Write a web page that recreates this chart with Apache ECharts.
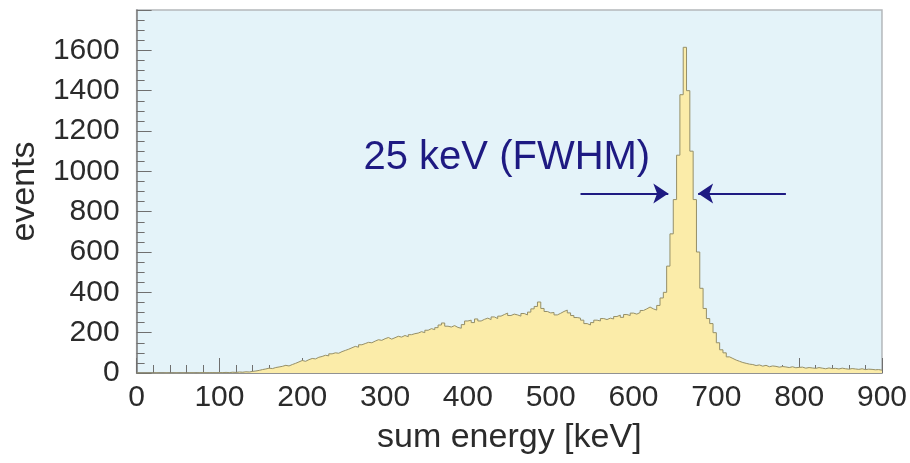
<!DOCTYPE html>
<html>
<head>
<meta charset="utf-8">
<script src="https://cdn.jsdelivr.net/npm/echarts@6/dist/echarts.min.js"></script>
<style>
  html, body { margin: 0; padding: 0; background: #ffffff; }
  #chart { width: 910px; height: 463px; }
</style>
</head>
<body>
<div id="chart"></div>
<script>
// Sum-energy spectrum, 4 keV bins starting at 0 keV
const binWidth = 4;

const countsLow = [        // 0 - 100 keV
  0, 0, 0, 0, 0, 1, 0, 0, 1, 0,
  0, 1, 0, 1, 0, 1, 1, 0, 1, 2,
  1, 1, 2, 1, 2
];
const countsContinuum = [  // 100 - 620 keV
  2, 3, 2, 4, 3, 5, 4, 6, 5, 8,
  10, 13, 17, 20, 24, 22, 27, 30, 33, 38,
  35, 42, 48, 55, 62, 58, 66, 72, 70, 78,
  82, 88, 85, 95, 100, 98, 106, 112, 118, 125,
  132, 128, 140, 146, 152, 150, 158, 165, 162, 170,
  176, 168, 175, 182, 178, 186, 180, 190, 195, 198,
  205, 200, 212, 220, 215, 225, 238, 248, 232, 228,
  235, 226, 222, 240, 258, 262, 250, 268, 258, 266,
  272, 265, 278, 270, 282, 290, 297, 285, 292, 288,
  282, 295, 288, 302, 318, 330, 352, 320, 305, 298,
  300, 288, 296, 305, 312, 298, 285, 275, 272, 262,
  245, 238, 250, 262, 258, 270, 265, 272, 268, 280,
  287, 276, 290, 285, 297, 292, 300, 310, 318, 327
];
const countsPeak = [       // 620 - 740 keV
  318, 312, 335, 372, 400, 530, 690, 860, 1080, 1380,
  1615, 1400, 1100, 860, 600, 420, 320, 270, 245, 200,
  150, 115, 100, 80, 72, 64, 58, 52, 48, 44
];
const countsTail = [       // 740 - 900 keV
  42, 37, 40, 34, 38, 31, 35, 33, 29, 32,
  30, 27, 31, 26, 28, 29, 24, 27, 25, 23,
  27, 24, 21, 25, 22, 23, 20, 24, 21, 19,
  22, 20, 18, 21, 17, 19, 18, 16, 17, 14
];

const xRange = [0, 900];
const xStep = 100;
const yRange = [0, 1800];
const yStep = 200;
const yLabelMax = 1600;

// FWHM annotation (data units: keV, events)
const fwhmText = '25 keV (FWHM)';
const fwhmTextAt = [447, 1065];
const fwhmLevel = 890;
const fwhmArrowLeft = [536, 642];
const fwhmArrowRight = [784, 678];

const counts = countsLow.concat(countsContinuum, countsPeak, countsTail);
const histData = counts.map((c, i) => [i * binWidth, c]);
histData.push([counts.length * binWidth, counts[counts.length - 1]]);

const FONT = '"Liberation Sans", Arial, Helvetica, sans-serif';
const TEXT = '#2b2b2b';
const NAVY = '#1e1a82';
const tickLine = { color: '#6f6f6f', width: 1 };

const chart = echarts.init(document.getElementById('chart'), null, { renderer: 'canvas' });

chart.setOption({
  animation: false,
  backgroundColor: '#ffffff',
  grid: {
    left: 135, right: 28, top: 10, bottom: 90,
    show: true,
    backgroundColor: '#e4f3f9',
    borderColor: '#b4b8bb',
    borderWidth: 1.5
  },
  xAxis: {
    type: 'value',
    min: xRange[0], max: xRange[1], interval: xStep,
    name: 'sum energy [keV]',
    nameLocation: 'middle',
    nameGap: 48,
    nameTextStyle: { fontFamily: FONT, fontSize: 34, color: TEXT },
    axisLine: { show: true, onZero: false, lineStyle: { color: '#808080', width: 1.5 } },
    axisTick: { show: true, inside: true, length: 15, lineStyle: tickLine },
    minorTick: { show: true, splitNumber: 5, length: 8, lineStyle: tickLine },
    splitLine: { show: false },
    axisLabel: { fontFamily: FONT, fontSize: 30, color: TEXT, margin: 10 }
  },
  yAxis: {
    type: 'value',
    min: yRange[0], max: yRange[1], interval: yStep,
    name: 'events',
    nameLocation: 'middle',
    nameGap: 92,
    nameTextStyle: { fontFamily: FONT, fontSize: 34, color: TEXT },
    axisLine: { show: true, onZero: false, lineStyle: { color: '#808080', width: 1.5 } },
    axisTick: { show: true, inside: true, length: 15, lineStyle: tickLine },
    minorTick: { show: true, splitNumber: 4, length: 8, lineStyle: tickLine },
    splitLine: { show: false },
    axisLabel: {
      fontFamily: FONT, fontSize: 30, color: TEXT, margin: 17,
      formatter: v => (v <= yLabelMax ? String(v) : '')
    }
  },
  series: [{
    type: 'line',
    step: 'end',
    data: histData,
    symbol: 'none',
    silent: true,
    lineStyle: { color: '#958f68', width: 1 },
    areaStyle: { color: '#fbeca9', opacity: 1 },
    markLine: {
      silent: true,
      symbol: ['none', 'arrow'],
      symbolSize: 15,
      label: { show: false },
      lineStyle: { color: NAVY, width: 2, type: 'solid' },
      emphasis: { disabled: true },
      data: [
        [{ coord: [fwhmArrowLeft[0], fwhmLevel] }, { coord: [fwhmArrowLeft[1], fwhmLevel] }],
        [{ coord: [fwhmArrowRight[0], fwhmLevel] }, { coord: [fwhmArrowRight[1], fwhmLevel] }]
      ]
    },
    markPoint: {
      silent: true,
      symbol: 'circle',
      symbolSize: 1,
      itemStyle: { color: 'rgba(0,0,0,0)' },
      label: {
        show: true,
        position: 'inside',
        formatter: fwhmText,
        fontFamily: FONT,
        fontSize: 40,
        color: NAVY
      },
      data: [{ coord: fwhmTextAt }]
    }
  }]
});
</script>
</body>
</html>
